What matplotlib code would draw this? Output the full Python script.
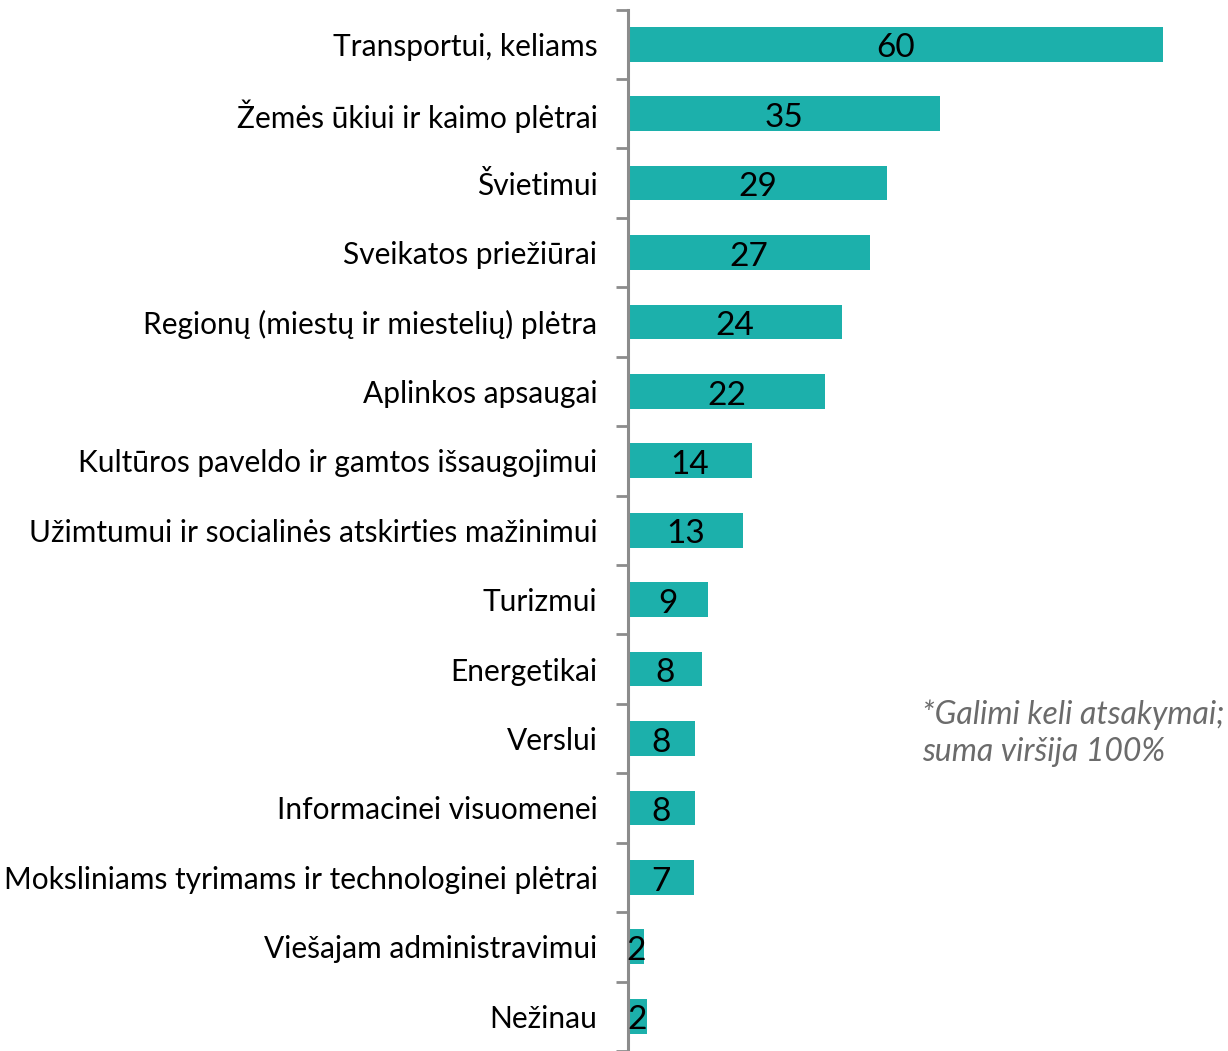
import numpy as np
import matplotlib
matplotlib.use("Agg")
from matplotlib import pyplot as plt

# categories, top to bottom
categories = [
    "Transportui, keliams",
    "Žemės ūkiui ir kaimo plėtrai",
    "Švietimui",
    "Sveikatos priežiūrai",
    "Regionų (miestų ir miestelių) plėtra",
    "Aplinkos apsaugai",
    "Kultūros paveldo ir gamtos išsaugojimui",
    "Užimtumui ir socialinės atskirties mažinimui",
    "Turizmui",
    "Energetikai",
    "Verslui",
    "Informacinei visuomenei",
    "Moksliniams tyrimams ir technologinei plėtrai",
    "Viešajam administravimui",
    "Nežinau",
]
values = [60, 35, 29, 27.1, 24, 22.1, 13.9, 12.9, 9, 8.3, 7.5, 7.5, 7.4, 1.8, 2.1]
labels = ["60", "35", "29", "27", "24", "22", "14", "13", "9", "8", "8", "8", "7", "2", "2"]

bar_color = "#1cb0ab"
axis_color = "#8c8c8c"

plt.rcParams['font.family'] = ['Lato', 'DejaVu Sans']

fig = plt.figure(figsize=(12.28, 10.51), dpi=100)
ax = fig.add_axes([628 / 1228, 0, 1 - 628 / 1228, 1 - 9.5 / 1051])

y = np.arange(len(categories))
ax.barh(y, values, height=0.5, color=bar_color, zorder=2)

for yi, v, lab in zip(y, values, labels):
    ax.text(v / 2, yi + 0.06, lab, ha="center", va="center", fontsize=24, color="black", zorder=3)

ax.set_xlim(0, 600 / 8.92)
ax.set_ylim(-0.5 + 1041.5 / 69.9, -0.5)

for s in ["top", "right", "bottom"]:
    ax.spines[s].set_visible(False)
ax.spines["left"].set_color(axis_color)
ax.spines["left"].set_linewidth(2.2)
ax.set_xticks([])

# ticks between categories, labels at centers
ax.set_yticks(np.arange(-0.5, len(categories) - 0.4, 1.0))
ax.set_yticklabels([])
ax.tick_params(axis="y", length=9, width=2, color=axis_color)
ax.set_yticks(y, minor=True)
ax.set_yticklabels(categories, minor=True, fontsize=21.5)
ax.tick_params(axis="y", which="minor", length=0, pad=22)

fig.text(922 / 1228, 1 - 715 / 1051, "*Galimi keli atsakymai;", fontsize=23, style="italic",
         color="#6b6b6b", ha="left", va="center")
fig.text(922 / 1228, 1 - 752 / 1051, "suma viršija 100%", fontsize=23, style="italic",
         color="#6b6b6b", ha="left", va="center")

fig.savefig("out.png", dpi=100)
